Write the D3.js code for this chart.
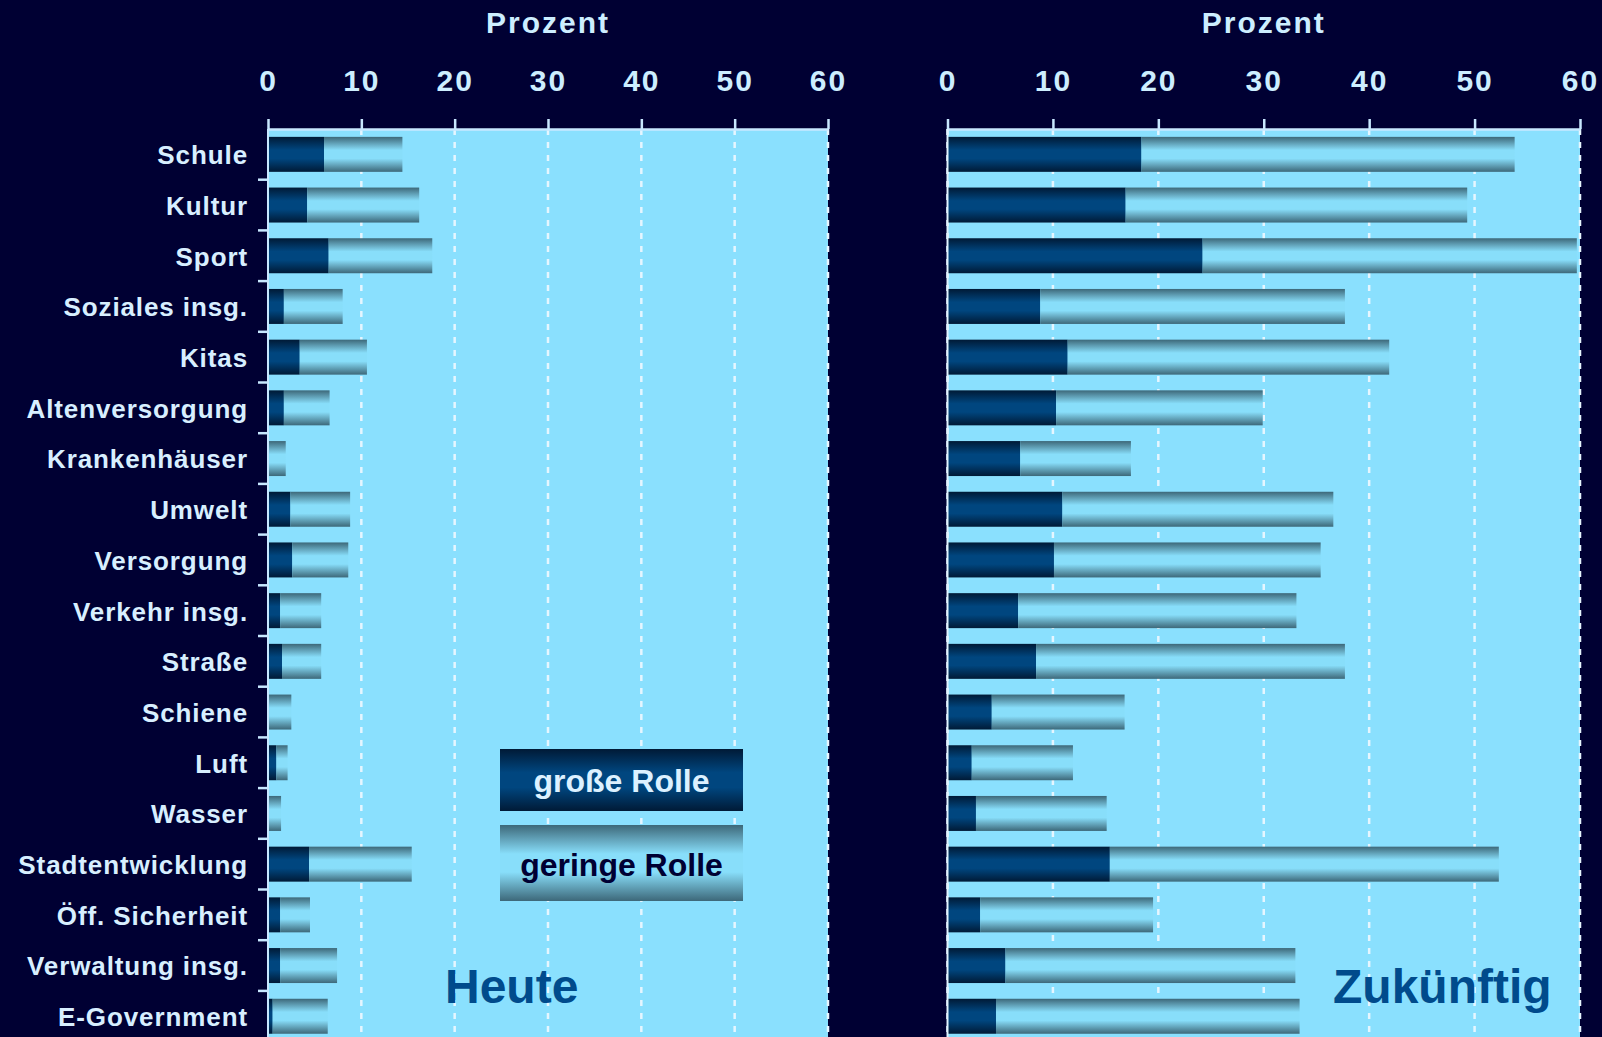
<!DOCTYPE html>
<html>
<head>
<meta charset="utf-8">
<script src="https://cdn.jsdelivr.net/npm/d3@7"></script>
<style>
  html, body { margin: 0; padding: 0; background: #000033; }
  svg { display: block; }
  text { font-family: "Liberation Sans", Arial, sans-serif; font-weight: bold; }
</style>
</head>
<body>
<svg id="chart" width="1602" height="1037"></svg>
<script>
const categories = ["Schule", "Kultur", "Sport", "Soziales insg.", "Kitas", "Altenversorgung",
    "Krankenhäuser", "Umwelt", "Versorgung", "Verkehr insg.", "Straße", "Schiene", "Luft",
    "Wasser", "Stadtentwicklung", "Öff. Sicherheit", "Verwaltung insg.", "E-Government"];

// Heute (Prozent)
const heuteGross  = [6.0, 4.2, 6.5, 1.7, 3.4, 1.7, 0.0, 2.4, 2.6, 1.3, 1.5, 0.0, 0.9, 0.0, 4.4, 1.3, 1.3, 0.5];
const heuteGering = [8.4, 12.0, 11.1, 6.3, 7.2, 4.9, 1.9, 6.4, 6.0, 4.4, 4.2, 2.5, 1.2, 1.4, 11.0, 3.2, 6.1, 5.9];

// Zukünftig (Prozent)
const zukunftGross  = [18.4, 16.9, 24.2, 8.8, 11.4, 10.3, 6.9, 10.9, 10.1, 6.7, 8.4, 4.2, 2.3, 2.7, 15.4, 3.1, 5.5, 4.6];
const zukunftGering = [35.4, 32.4, 35.5, 28.9, 30.5, 19.6, 10.5, 25.7, 25.3, 26.4, 29.3, 12.6, 9.6, 12.4, 36.9, 16.4, 27.5, 28.8];

const xTicks = [0, 10, 20, 30, 40, 50, 60];
const seriesNames = ["große Rolle", "geringe Rolle"];

const svg = d3.select("#chart");
const defs = svg.append("defs");

// vertical "tube" gradients like the original
function tube(id, edge, mid) {
    const g = defs.append("linearGradient")
        .attr("id", id).attr("x1", 0).attr("y1", 0).attr("x2", 0).attr("y2", 1);
    g.append("stop").attr("offset", "0%").attr("stop-color", edge);
    g.append("stop").attr("offset", "38%").attr("stop-color", mid);
    g.append("stop").attr("offset", "62%").attr("stop-color", mid);
    g.append("stop").attr("offset", "100%").attr("stop-color", edge);
}
tube("gradGross", "#001a36", "#00467f");
tube("gradGering", "#3d6879", "#88defa");

const plotTop = 129;
const y = d3.scaleBand()
    .domain(categories)
    .range([plotTop, plotTop + categories.length * 50.7])
    .paddingInner(0.31)
    .paddingOuter(0.155);

function drawPanel(cfg) {
    const x = d3.scaleLinear().domain([0, 60]).range([cfg.x0, cfg.x1]);
    const g = svg.append("g").classed("panel", true);

    g.append("rect")
        .attr("x", x(0)).attr("y", plotTop)
        .attr("width", x(60) - x(0)).attr("height", 1037 - plotTop)
        .attr("fill", "#8ae0fe");

    // dashed grid
    g.append("g").selectAll("line")
        .data(cfg.gridAtZero ? xTicks : xTicks.slice(1))
        .join("line")
        .attr("x1", d => x(d)).attr("x2", d => x(d))
        .attr("y1", plotTop).attr("y2", 1037)
        .attr("stroke", "#e6f6ff")
        .attr("stroke-width", 2.5)
        .attr("stroke-dasharray", "6,7");

    const rows = categories.map((c, i) => ({cat: c, gross: cfg.gross[i], gering: cfg.gering[i]}));
    const stack = d3.stack().keys(["gross", "gering"])(rows);

    g.append("g").selectAll("g")
        .data(stack)
        .join("g")
        .attr("fill", d => d.key == "gross" ? "url(#gradGross)" : "url(#gradGering)")
        .selectAll("rect")
        .data(d => d.filter(s => s[1] - s[0] > 0))
        .join("rect")
        .attr("x", d => x(d[0]))
        .attr("width", d => x(d[1]) - x(d[0]))
        .attr("y", d => y(d.data.cat))
        .attr("height", y.bandwidth());

    // top axis
    const ax = g.append("g")
        .attr("transform", `translate(0, ${plotTop})`)
        .call(d3.axisTop(x).tickValues(xTicks).tickSize(10).tickPadding(28).tickSizeOuter(0));
    ax.select(".domain").attr("stroke", "#c8e8ff").attr("stroke-width", 2.5);
    ax.selectAll(".tick line").attr("stroke", "#c8e8ff").attr("stroke-width", 2.5);
    ax.selectAll(".tick text")
        .attr("fill", "#cdeeff")
        .style("font-size", "30px")
        .style("letter-spacing", "2px");

    g.append("text")
        .attr("x", (cfg.x0 + cfg.x1) / 2)
        .attr("y", 33)
        .attr("text-anchor", "middle")
        .attr("fill", "#cdeeff")
        .style("font-size", "30px")
        .style("letter-spacing", "2px")
        .text("Prozent");

    // left edge
    g.append("line")
        .attr("x1", x(0)).attr("x2", x(0))
        .attr("y1", plotTop).attr("y2", 1037)
        .attr("stroke", cfg.labels ? "#c8e8ff" : "#e2f4ff")
        .attr("stroke-width", 2);

    if (cfg.labels) {
        const ay = g.append("g")
            .attr("transform", `translate(${x(0)}, 0)`)
            .call(d3.axisLeft(y).tickSize(0).tickPadding(20));
        ay.select(".domain").remove();
        ay.selectAll(".tick text")
            .attr("fill", "#d8efff")
            .attr("dy", "0.38em")
            .style("font-size", "26px")
            .style("letter-spacing", "0.9px");

        // ticks between categories
        g.append("g").selectAll("line")
            .data(categories.slice(1))
            .join("line")
            .attr("x1", x(0) - 10).attr("x2", x(0))
            .attr("y1", d => y(d) - y.step() * y.paddingInner() / 2)
            .attr("y2", d => y(d) - y.step() * y.paddingInner() / 2)
            .attr("stroke", "#c8e8ff")
            .attr("stroke-width", 2.5);
    }

    g.append("text")
        .attr("x", cfg.titleX)
        .attr("y", 1003)
        .attr("fill", "#004b8c")
        .style("font-size", "48px")
        .text(cfg.title);

    return x;
}

drawPanel({x0: 268, x1: 828, gross: heuteGross, gering: heuteGering,
    labels: true, gridAtZero: false, title: "Heute", titleX: 445});
drawPanel({x0: 947.5, x1: 1580, gross: zukunftGross, gering: zukunftGering,
    labels: false, gridAtZero: true, title: "Zukünftig", titleX: 1333});

// legend
const legend = svg.append("g").classed("legend", true);
const legendBoxes = [
    {name: seriesNames[0], y: 749, h: 62, fill: "url(#gradGross)", color: "#dcf1ff", base: 792},
    {name: seriesNames[1], y: 825, h: 76, fill: "url(#gradGering)", color: "#000033", base: 876}
];
legend.selectAll("rect")
    .data(legendBoxes)
    .join("rect")
    .attr("x", 500).attr("y", d => d.y)
    .attr("width", 243).attr("height", d => d.h)
    .attr("fill", d => d.fill);
legend.selectAll("text")
    .data(legendBoxes)
    .join("text")
    .attr("x", 621.5).attr("y", d => d.base)
    .attr("text-anchor", "middle")
    .attr("fill", d => d.color)
    .style("font-size", "32px")
    .text(d => d.name);
</script>
</body>
</html>
